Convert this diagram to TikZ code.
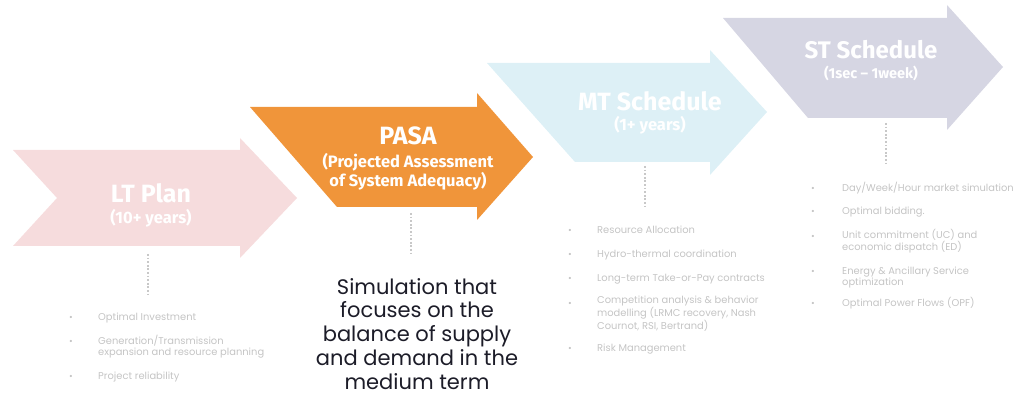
\documentclass[tikz,border=0pt]{standalone}
\usepackage{fontspec}
\setmainfont{Poppins}
\newfontfamily\titlefont{Fira Sans}
\definecolor{ltpink}{RGB}{246,220,221}
\definecolor{pasaorange}{RGB}{240,149,58}
\definecolor{mtblue}{RGB}{221,240,246}
\definecolor{stlav}{RGB}{214,214,227}
\definecolor{listgray}{RGB}{196,196,196}
\definecolor{dotgray}{RGB}{200,200,200}
\definecolor{maintext}{RGB}{28,28,40}
\tikzset{
  bigtitle/.style={text=white,font=\titlefont\bfseries\fontsize{25}{28}\selectfont,inner sep=0pt,anchor=base},
  subtitle/.style={text=white,font=\titlefont\bfseries\fontsize{16.5}{19.5}\selectfont,inner sep=0pt,anchor=base,align=center},
  dotline/.style={dotgray,line width=1.8pt,dash pattern=on 1.8pt off 1.8pt},
  listitem/.style={text=listgray,font=\fontsize{9.9}{11}\selectfont,inner sep=0pt,anchor=base west,align=left},
  bulletmark/.style={text=listgray,font=\fontsize{9}{11}\selectfont,inner sep=0pt,anchor=base},
  mainnote/.style={text=maintext,font=\fontsize{21}{23.8}\selectfont,inner sep=0pt,anchor=base,align=center}
}
\begin{document}
\begin{tikzpicture}[x=1pt,y=-1pt]
\useasboundingbox (0,0) rectangle (1018,398);
% arrows
\fill[ltpink] (13,150) -- (240,150) -- (240,138) -- (297,198) -- (240,258) -- (240,246) -- (13,246) -- (57,198) -- cycle;
\fill[pasaorange] (250,107) -- (477,107) -- (477,93) -- (533,157) -- (477,220) -- (477,207) -- (337,207) -- cycle;
\fill[mtblue] (487,63) -- (710,63) -- (710,50) -- (767,112) -- (710,175) -- (710,162) -- (575,162) -- cycle;
\fill[stlav] (723,18) -- (947,18) -- (947,5) -- (1003,67) -- (947,130) -- (947,118) -- (808,118) -- cycle;
% titles
\node[bigtitle] (ltT) at (151,203) {LT Plan};
\node[subtitle] (ltS) at (151,224) {(10+ years)};
\node[bigtitle] (pasaT) at (408,145) {PASA};
\node[subtitle,anchor=north] (pasaS) at (408,153) {(Projected Assessment\\of System Adequacy)};
\node[bigtitle] (mtT) at (650,111) {MT Schedule};
\node[subtitle] (mtS) at (650,131) {(1+ years)};
\node[bigtitle,font=\titlefont\bfseries\fontsize{24}{28}\selectfont] (stT) at (871,59) {ST Schedule};
\node[subtitle,font=\titlefont\bfseries\fontsize{14.5}{18}\selectfont] (stS) at (871,79) {(1sec – 1week)};
% dotted connectors
\coordinate (ltA) at (148,254); \coordinate (ltB) at (148,294);
\coordinate (paA) at (411,213); \coordinate (paB) at (411,253);
\coordinate (mtA) at (645,166); \coordinate (mtB) at (645,208);
\coordinate (stA) at (886,123); \coordinate (stB) at (886,164);
\draw[dotline] (ltA) -- (ltB);
\draw[dotline] (paA) -- (paB);
\draw[dotline] (mtA) -- (mtB);
\draw[dotline] (stA) -- (stB);
% LT list
\node[bulletmark] (lb1) at (71,320) {•};
\node[listitem] (l1) at (98,320) {Optimal Investment};
\node[bulletmark] (lb2) at (71,344) {•};
\node[listitem] (l2) at (98,355) {Generation/Transmission\\expansion and resource planning};
\node[bulletmark] (lb3) at (71,379) {•};
\node[listitem] (l3) at (98,379) {Project reliability};
% main note
\node[mainnote,anchor=north] (note) at (417,278) {Simulation that\\focuses on the\\balance of supply\\and demand in the\\medium term};
% MT list
\node[bulletmark] (mb1) at (570,234) {•};
\node[listitem] (m1) at (597,234) {Resource Allocation};
\node[bulletmark] (mb2) at (570,258) {•};
\node[listitem] (m2) at (597,258) {Hydro-thermal coordination};
\node[bulletmark] (mb3) at (570,282) {•};
\node[listitem] (m3) at (597,282) {Long-term Take-or-Pay contracts};
\node[bulletmark] (mb4) at (570,307) {•};
\node[listitem] (m4) at (597,329) {Competition analysis \& behavior\\modelling (LRMC recovery, Nash\\Cournot, RSI, Bertrand)};
\node[bulletmark] (mb5) at (570,352) {•};
\node[listitem] (m5) at (597,352) {Risk Management};
% ST list
\node[bulletmark] (sb1) at (813,192) {•};
\node[listitem] (s1) at (842,192) {Day/Week/Hour market simulation};
\node[bulletmark] (sb2) at (813,215) {•};
\node[listitem] (s2) at (842,215) {Optimal bidding.};
\node[bulletmark] (sb3) at (813,240) {•};
\node[listitem] (s3) at (842,251) {Unit commitment (UC) and\\economic dispatch (ED)};
\node[bulletmark] (sb4) at (813,275) {•};
\node[listitem] (s4) at (842,286) {Energy \& Ancillary Service\\optimization};
\node[bulletmark] (sb5) at (813,306) {•};
\node[listitem] (s5) at (842,306) {Optimal Power Flows (OPF)};
\end{tikzpicture}
\end{document}
